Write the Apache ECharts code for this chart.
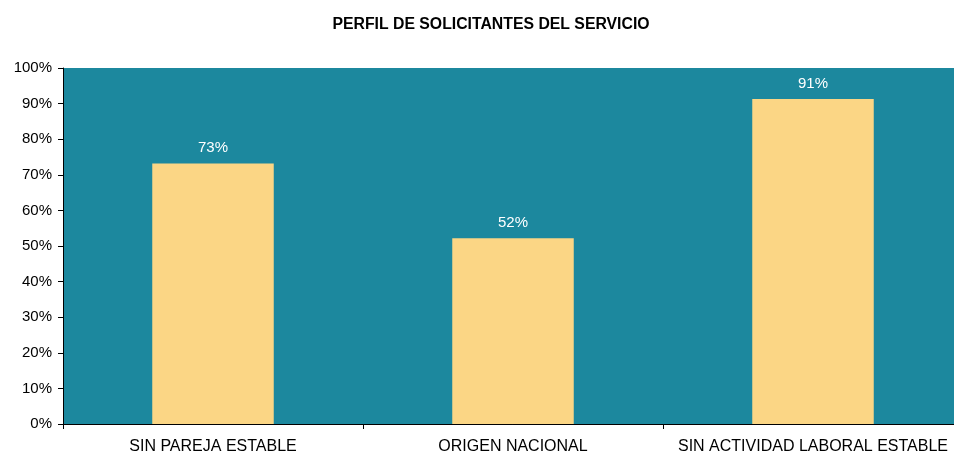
<!DOCTYPE html>
<html><head><meta charset="utf-8">
<script src="https://cdn.jsdelivr.net/npm/echarts@6/dist/echarts.min.js"></script>
<style>html,body{margin:0;padding:0;background:#fff;overflow:hidden;width:954px;height:453px}#c{width:980px;height:480px}</style>
</head><body><div id="c"></div>
<script>
const categories = ['SIN PAREJA ESTABLE', 'ORIGEN NACIONAL', 'SIN ACTIVIDAD LABORAL ESTABLE'];
const values = [73.2, 52.2, 91.3];
const yTicks = [0, 10, 20, 30, 40, 50, 60, 70, 80, 90, 100];

const chart = echarts.init(document.getElementById('c'));
chart.setOption({
  animation: false,
  title: {
    text: 'PERFIL DE SOLICITANTES DEL SERVICIO',
    left: 486, textAlign: 'center', top: 12,
    textStyle: {fontFamily: 'Liberation Sans, Arial', fontSize: 15.8, fontWeight: 'bold', color: '#000'}
  },
  grid: {left: 63, width: 900, top: 68, height: 356, show: true, backgroundColor: '#1C889E', borderWidth: 0, outerBoundsMode: 'none'},
  xAxis: {
    type: 'category', data: categories,
    axisLine: {lineStyle: {color: '#000', width: 1}},
    axisTick: {show: true, interval: 0, length: 5, lineStyle: {color: '#000'}},
    axisLabel: {interval: 0, color: '#000', fontFamily: 'Liberation Sans, Arial', fontSize: 16, margin: 15}
  },
  yAxis: {
    type: 'value', min: yTicks[0], max: yTicks[yTicks.length - 1], interval: 10,
    axisLine: {show: true, lineStyle: {color: '#000', width: 1}},
    axisTick: {show: true, length: 5, lineStyle: {color: '#000'}},
    splitLine: {show: false},
    axisLabel: {color: '#000', fontFamily: 'Liberation Sans, Arial', fontSize: 15, margin: 11, formatter: v => v + '%'}
  },
  series: [{
    type: 'bar', data: values, barWidth: '40.5%',
    itemStyle: {color: '#FBD685'},
    label: {show: true, position: 'top', distance: 8, color: '#fff', fontFamily: 'Liberation Sans, Arial', fontSize: 15,
      formatter: p => Math.round(p.value) + '%'}
  }]
});
</script></body></html>
